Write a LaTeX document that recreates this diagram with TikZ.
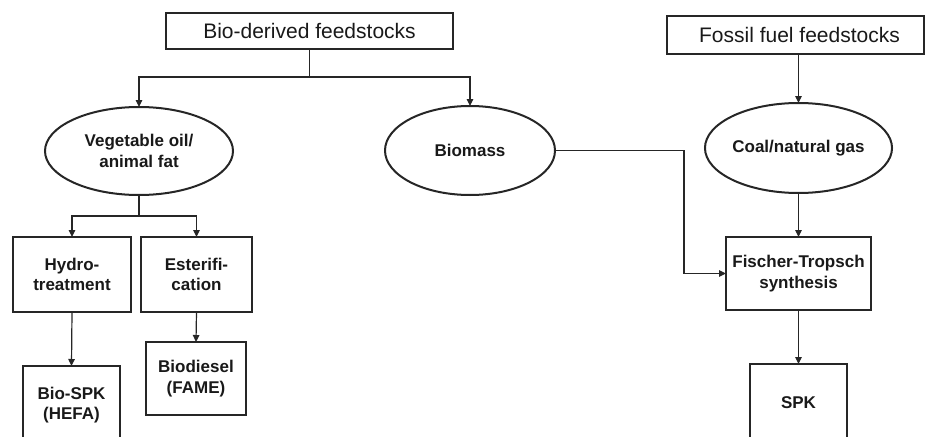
\documentclass[tikz,border=0pt]{standalone}
\usepackage{fontspec}
\setmainfont{Liberation Sans}
\usetikzlibrary{shapes.geometric,arrows.meta}
\begin{document}
\begin{tikzpicture}[x=1pt,y=-1pt,
  every node/.style={inner sep=0pt,outer sep=0pt,text=black!90},
  headbox/.style={draw=black!85,line width=1.8pt,rectangle,
    font=\fontsize{21}{24}\selectfont},
  procbox/.style={draw=black!85,line width=2.2pt,rectangle,align=center,
    font=\fontsize{17}{20.5}\selectfont\bfseries},
  srcell/.style={draw=black!85,line width=2pt,ellipse,align=center,
    font=\fontsize{17}{20.5}\selectfont\bfseries},
  link/.style={draw=black!85,line width=1.2pt},
  arr/.style={link,-{Triangle[length=7pt,width=6.5pt]}}]
\clip (0,0) rectangle (925,436);
\useasboundingbox (0,0) rectangle (925,436);

% feedstock headers
\node[headbox,minimum width=287pt,minimum height=36pt] (bio) at (309.5,31) {Bio-derived feedstocks};
\node[headbox,minimum width=257pt,minimum height=38pt] (fossil) at (795.5,35) {\hspace*{8pt}Fossil fuel feedstocks};

% raw material ellipses
\node[srcell,minimum width=188pt,minimum height=88pt] (veg) at (139,151) {Vegetable oil/\\animal fat};
\node[srcell,minimum width=170pt,minimum height=89pt] (biomass) at (470,150.5) {Biomass};
\node[srcell,minimum width=171pt,minimum height=90pt] (coal) at (798.5,148) {Coal/natural gas};

% conversion processes
\node[procbox,minimum width=118pt,minimum height=75pt] (hydro) at (72,274.5) {Hydro-\\treatment};
\node[procbox,minimum width=111pt,minimum height=75pt] (ester) at (196.5,274.5) {Esterifi-\\cation};
\node[procbox,minimum width=145pt,minimum height=73pt] (ft) at (798.5,273.5) {Fischer-Tropsch\\synthesis};

% products
\node[procbox,minimum width=97pt,minimum height=78pt] (biospk) at (71.5,405) {Bio-SPK\\(HEFA)};
\node[procbox,minimum width=100pt,minimum height=73pt] (biodiesel) at (196,378.5) {Biodiesel\\(FAME)};
\node[procbox,minimum width=97pt,minimum height=78pt] (spk) at (798.5,403) {SPK};

% junctions and bends
\coordinate (jbio) at (309.5,77);
\coordinate (jveg) at (139,216);
\coordinate (bend) at (684,273.5);

% connectors
\draw[link] (bio.south) -- (jbio);
\draw[arr] (jbio) -| (veg.north);
\draw[arr] (jbio) -| (biomass.north);
\draw[arr] (coal.north |- fossil.south) -- (coal.north);

\draw[link] (veg.south) -- (jveg);
\draw[arr] (jveg) -| (hydro.north);
\draw[arr] (jveg) -| (ester.north);
\draw[arr] (hydro.south) -- (biospk.north);
\draw[arr] (ester.south) -- (biodiesel.north);

\draw[arr] (biomass.east) -| (bend) -- (ft.west);
\draw[arr] (coal.south) -- (ft.north);
\draw[arr] (ft.south) -- (spk.north);
\end{tikzpicture}
\end{document}
